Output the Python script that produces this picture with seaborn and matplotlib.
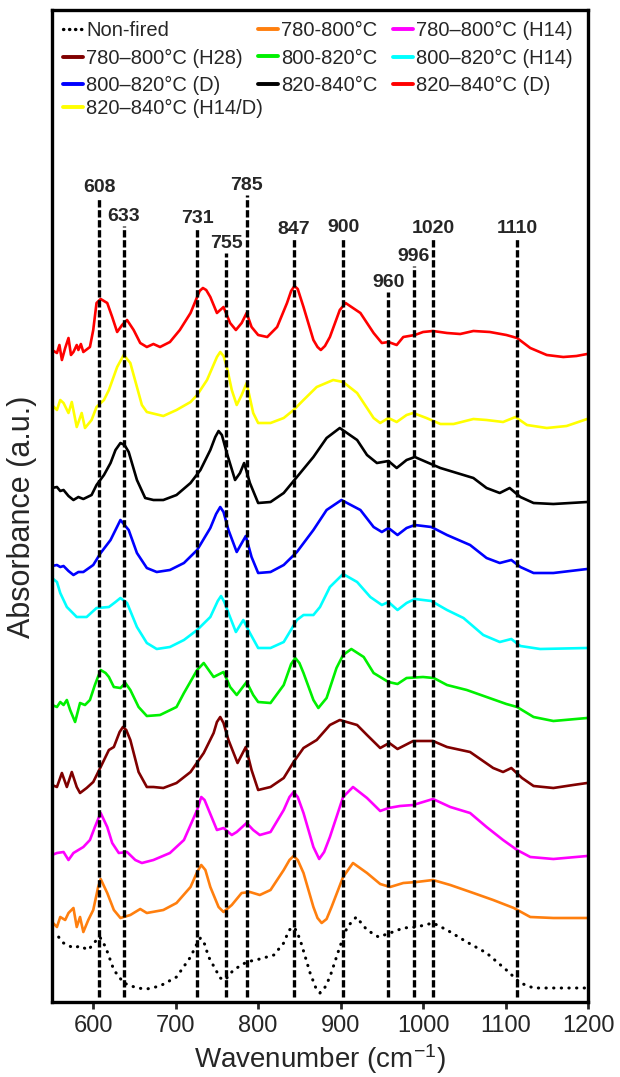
import matplotlib
matplotlib.use("Agg")
import matplotlib.pyplot as plt
from matplotlib.lines import Line2D
import seaborn as sns
import pandas as pd

# ---------------- data ----------------
nonfired_wn = [550, 556, 564, 576, 584, 594, 604, 608, 615, 625, 637, 653, 665, 681, 701, 718, 725, 730, 735, 740,
               754, 760, 770, 786, 802, 819, 831, 837, 841, 846, 851, 863, 870, 875, 880, 887, 899, 908, 919, 932,
               946, 960, 976, 992, 1012, 1029, 1053, 1077, 1101, 1118, 1134, 1158, 1199]
nonfired_ab = [65, 65, 57, 52, 54, 50, 60, 63, 53, 30, 17, 12, 11, 14, 23, 43, 55, 62, 56, 43,
               22, 20, 30, 38, 41, 45, 57, 69, 73, 70, 60, 27, 12, 7, 11, 23, 53, 73, 83, 70,
               63, 67, 72, 73, 77, 70, 58, 47, 30, 17, 12, 12, 12]

o780_wn = [550, 556, 560, 566, 570, 576, 580, 584, 588, 594, 600, 606, 609, 617, 625, 633, 645, 657, 665, 685,
           701, 718, 726, 731, 736, 742, 752, 758, 768, 780, 790, 802, 815, 831, 838, 843, 848, 855, 867, 872,
           877, 883, 889, 903, 915, 932, 948, 960, 976, 992, 1012, 1033, 1061, 1085, 1110, 1130, 1158, 1199]
o780_ab = [78, 73, 83, 80, 87, 92, 73, 83, 68, 80, 90, 113, 121, 107, 90, 82, 85, 91, 87, 90,
           97, 113, 128, 135, 130, 113, 93, 88, 95, 107, 108, 105, 110, 130, 140, 144, 140, 127, 93, 82,
           77, 81, 93, 123, 137, 127, 116, 113, 117, 118, 120, 115, 107, 100, 92, 83, 82, 82]

m780h14_wn = [550, 556, 564, 570, 576, 582, 588, 596, 602, 609, 617, 623, 631, 641, 651, 659, 673, 693, 710, 726,
              731, 735, 740, 750, 758, 768, 774, 786, 794, 802, 815, 831, 838, 843, 848, 855, 867, 874, 880, 887,
              903, 915, 932, 948, 958, 972, 988, 1012, 1033, 1057, 1077, 1097, 1114, 1130, 1158, 1199]
m780h14_ab = [145, 147, 148, 140, 147, 150, 153, 160, 173, 187, 173, 157, 147, 148, 140, 137, 140, 147, 160, 190,
              203, 200, 190, 170, 172, 165, 168, 177, 170, 165, 168, 190, 203, 208, 203, 187, 153, 141, 148, 163,
              203, 213, 202, 189, 192, 194, 195, 201, 193, 187, 173, 160, 150, 143, 141, 144]

b780h28_wn = [550, 556, 562, 568, 574, 580, 584, 592, 600, 609, 619, 625, 632, 636, 640, 645, 655, 665, 673, 685,
              701, 718, 734, 746, 750, 754, 758, 764, 775, 785, 792, 800, 815, 831, 843, 855, 871, 887, 899, 920,
              932, 948, 959, 969, 988, 1012, 1029, 1057, 1071, 1085, 1097, 1107, 1120, 1134, 1158, 1182, 1199]
b780h28_ab = [215, 213, 227, 213, 228, 213, 207, 212, 218, 233, 250, 253, 268, 273, 270, 260, 228, 213, 213, 212,
              217, 228, 247, 267, 278, 283, 277, 260, 237, 253, 230, 210, 213, 222, 238, 252, 260, 275, 280, 275,
              265, 252, 257, 251, 259, 259, 253, 248, 240, 232, 228, 232, 222, 214, 212, 215, 217]

g800_wn = [550, 556, 560, 564, 568, 572, 578, 584, 590, 596, 602, 609, 615, 619, 625, 633, 639, 645, 655, 665,
           681, 701, 710, 726, 734, 746, 758, 766, 774, 786, 794, 800, 815, 831, 840, 845, 850, 855, 867, 873,
           883, 895, 903, 913, 928, 940, 958, 969, 980, 1000, 1013, 1029, 1053, 1077, 1101, 1114, 1134, 1158, 1199]
g800_ab = [295, 293, 298, 295, 300, 290, 278, 297, 295, 300, 315, 330, 327, 323, 313, 312, 317, 310, 293, 284,
           285, 293, 307, 330, 337, 323, 328, 313, 305, 318, 305, 298, 297, 315, 336, 342, 337, 327, 300, 292,
           302, 332, 345, 351, 343, 327, 318, 316, 322, 323, 322, 315, 310, 303, 296, 293, 283, 279, 282]

c800h14_wn = [550, 556, 560, 568, 580, 592, 604, 619, 627, 633, 641, 653, 665, 677, 693, 710, 726, 742, 751, 755,
              759, 764, 773, 782, 790, 800, 815, 831, 847, 855, 867, 875, 887, 903, 920, 936, 950, 958, 969, 980,
              990, 1010, 1029, 1049, 1073, 1093, 1107, 1118, 1142, 1199]
c800h14_ab = [422, 418, 407, 393, 383, 383, 392, 393, 398, 402, 397, 373, 357, 351, 353, 360, 370, 383, 399, 404,
              398, 387, 368, 380, 367, 352, 352, 358, 380, 385, 385, 393, 413, 426, 418, 403, 395, 398, 390, 397,
              401, 399, 390, 382, 365, 358, 361, 354, 351, 352]

b800d_wn = [550, 556, 560, 564, 570, 576, 582, 588, 600, 609, 621, 633, 643, 653, 665, 677, 693, 710, 726, 742,
            749, 754, 758, 764, 774, 785, 792, 800, 815, 831, 847, 867, 883, 901, 924, 940, 950, 958, 969, 980,
            990, 1010, 1029, 1057, 1077, 1093, 1107, 1118, 1134, 1158, 1199]
b800d_ab = [434, 435, 433, 434, 429, 425, 428, 428, 435, 447, 460, 480, 470, 447, 432, 428, 430, 437, 450, 472,
            486, 493, 488, 470, 448, 464, 443, 427, 428, 435, 448, 470, 490, 500, 490, 473, 468, 472, 465, 472,
            475, 473, 465, 455, 442, 437, 440, 433, 427, 427, 431]

k820_wn = [550, 556, 560, 564, 570, 576, 582, 588, 598, 604, 613, 621, 627, 633, 638, 643, 653, 663, 673, 685,
           701, 718, 730, 742, 748, 752, 756, 762, 772, 778, 783, 790, 800, 815, 831, 847, 867, 883, 899, 920,
           932, 944, 958, 968, 980, 990, 1004, 1021, 1037, 1061, 1077, 1093, 1105, 1118, 1134, 1158, 1199]
k820_ab = [512, 513, 509, 510, 504, 500, 503, 501, 505, 515, 525, 537, 550, 557, 555, 548, 520, 502, 500, 500,
           505, 517, 530, 550, 563, 569, 565, 547, 520, 527, 537, 517, 497, 498, 507, 523, 543, 562, 572, 560,
           545, 537, 539, 532, 540, 543, 538, 532, 528, 522, 512, 507, 512, 503, 497, 496, 498]

r820d_wn = [550, 556, 559, 562, 566, 570, 573, 576, 580, 582, 585, 588, 596, 600, 604, 609, 617, 623, 629, 635,
            641, 649, 657, 665, 673, 681, 693, 705, 718, 726, 729, 733, 737, 742, 750, 758, 766, 773, 780, 786,
            792, 800, 811, 823, 835, 840, 844, 848, 855, 867, 872, 876, 881, 887, 899, 906, 924, 940, 950, 958,
            968, 976, 990, 1000, 1012, 1029, 1045, 1061, 1081, 1101, 1114, 1130, 1150, 1170, 1186, 1199]
r820d_ab = [650, 647, 655, 640, 652, 662, 645, 648, 655, 650, 656, 648, 653, 670, 697, 701, 697, 683, 668, 675,
            680, 670, 657, 653, 656, 653, 658, 670, 687, 703, 709, 712, 710, 703, 687, 693, 677, 670, 677, 687,
            673, 665, 663, 673, 697, 709, 714, 711, 693, 660, 653, 650, 654, 663, 690, 697, 687, 667, 657, 658,
            655, 663, 665, 668, 669, 667, 666, 669, 668, 665, 662, 652, 645, 643, 644, 646]

y820h14d_wn = [550, 556, 560, 564, 570, 574, 580, 586, 590, 598, 604, 613, 619, 629, 637, 645, 653, 659, 665, 685,
               701, 718, 726, 738, 750, 754, 758, 762, 768, 774, 780, 786, 794, 800, 815, 831, 843, 855, 871, 891,
               903, 920, 932, 940, 948, 958, 968, 980, 988, 1004, 1021, 1037, 1061, 1077, 1097, 1112, 1126, 1150,
               1174, 1199]
y820h14d_ab = [595, 590, 600, 597, 587, 598, 573, 587, 572, 580, 593, 600, 610, 633, 645, 637, 613, 595, 588, 584,
               590, 598, 605, 620, 643, 648, 644, 633, 610, 595, 605, 617, 587, 577, 577, 582, 590, 600, 613, 620,
               618, 607, 592, 582, 577, 582, 578, 585, 587, 582, 576, 576, 581, 580, 578, 583, 575, 572,
               574, 581]

series_labels = ["Non-fired", "780-800°C", "780–800°C (H14)", "780–800°C (H28)", "800-820°C",
                 "800–820°C (H14)", "800–820°C (D)", "820-840°C", "820–840°C (D)", "820–840°C (H14/D)"]
series_wn = [nonfired_wn, o780_wn, m780h14_wn, b780h28_wn, g800_wn, c800h14_wn, b800d_wn, k820_wn, r820d_wn,
             y820h14d_wn]
series_ab = [nonfired_ab, o780_ab, m780h14_ab, b780h28_ab, g800_ab, c800h14_ab, b800d_ab, k820_ab, r820d_ab,
             y820h14d_ab]
series_colors = ["black", "#ff7f0e", "#ff00ff", "#800000", "#00f000", "#00ffff", "#0000ff", "black", "#ff0000",
                 "#ffff00"]

peak_labels = ["608", "633", "731", "755", "785", "847", "900", "960", "996", "1020", "1110"]
peak_pos = [607, 637, 726, 761, 786, 843, 903, 958, 989, 1012, 1114]
peak_top = [803, 774, 772, 747, 805, 761, 763, 708, 734, 762, 762]

xticks = [600, 700, 800, 900, 1000, 1100, 1200]

# ---------------- plotting ----------------
sns.set_style("white")
plt.rcParams["font.family"] = ["Liberation Sans", "DejaVu Sans"]
plt.rcParams["mathtext.fontset"] = "custom"
plt.rcParams["mathtext.rm"] = "Liberation Sans"
plt.rcParams["mathtext.it"] = "Liberation Sans"

fig = plt.figure(figsize=(6.2, 10.77), dpi=100)
ax = fig.add_axes([52 / 620, 75 / 1077, 536 / 620, 992 / 1077])

frames = []
for lab, wn, ab in zip(series_labels, series_wn, series_ab):
    frames.append(pd.DataFrame({"wn": wn, "ab": ab, "sample": lab}))
df = pd.concat(frames, ignore_index=True)

palette = dict(zip(series_labels, series_colors))
sns.lineplot(data=df, x="wn", y="ab", hue="sample", palette=palette, estimator=None,
             sort=True, linewidth=1.9, ax=ax, legend=False)

handles = {}
for ln, lab in zip(ax.get_lines(), series_labels):
    ln.set_solid_joinstyle("round")
    ln.set_solid_capstyle("round")
    handles[lab] = ln
nf = handles["Non-fired"]
nf.set_linestyle((0, (0.1, 2.4)))
nf.set_dash_capstyle("round")
nf.set_linewidth(2.2)

# dashed marker lines and peak labels
ax.vlines(peak_pos, 3, peak_top, colors="black", linestyles=(0, (2.2, 0.8)), linewidth=2.4, zorder=5)
for p, t, lab in zip(peak_pos, peak_top, peak_labels):
    ax.text(p, t + 1, lab, ha="center", va="bottom", fontsize=14, fontweight="bold", zorder=6)

ax.set_xlim(550, 1200)
ax.set_ylim(-2, 990)
ax.set_xticks(xticks)
ax.set_xticklabels([str(t) for t in xticks], fontsize=17)
ax.set_yticks([])
ax.tick_params(axis="x", direction="out", length=5, width=2, pad=4, bottom=True)
for s in ax.spines.values():
    s.set_linewidth(2.4)
    s.set_color("black")

ax.set_xlabel("Wavenumber (cm$^{-1}$)", fontsize=20, labelpad=4)
ax.set_ylabel("Absorbance (a.u.)", fontsize=22)
ax.yaxis.set_label_coords(-0.028, 0.489)


def proxy(lab):
    h = handles[lab]
    if lab == "Non-fired":
        return Line2D([], [], color=h.get_color(), linewidth=2.4, linestyle=(0, (0.1, 1.7)),
                      dash_capstyle="round")
    return Line2D([], [], color=h.get_color(), linewidth=2.8)


order = ["Non-fired", "780–800°C (H28)", "800–820°C (D)",
         "780-800°C", "800-820°C", "820-840°C",
         "780–800°C (H14)", "800–820°C (H14)", "820–840°C (D)"]
leg_kw = dict(frameon=False, fontsize=14.5, handlelength=1.0, handletextpad=0.15, columnspacing=0.75,
              labelspacing=0.42, borderpad=0, borderaxespad=0, loc="upper left")
leg1 = ax.legend([proxy(l) for l in order], order, ncol=3, bbox_to_anchor=(0.0205, 0.9889), **leg_kw)
ax.add_artist(leg1)
last = ["820–840°C (H14/D)"]
ax.legend([proxy(l) for l in last], last, ncol=1, bbox_to_anchor=(0.0205, 0.9103), **leg_kw)

fig.savefig("out.png", dpi=100)
